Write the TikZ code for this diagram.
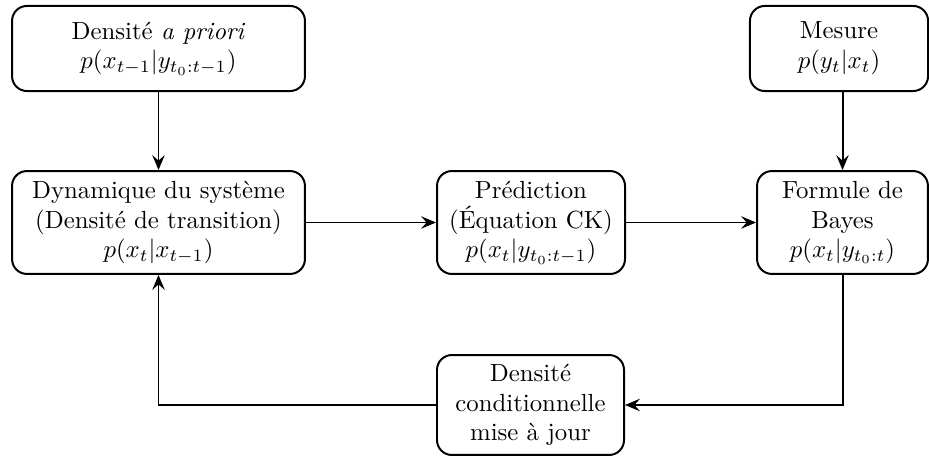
\documentclass[tikz,border=0pt]{standalone}
\usetikzlibrary{arrows.meta}
\begin{document}
\begin{tikzpicture}[x=0.4032pt,y=-0.4032pt,
  box/.style={draw,thick,rounded corners=6pt,align=center,inner sep=2pt,font=\normalsize},
  arr/.style={thick,-{Stealth[length=6pt,width=5pt,inset=2.2pt]}},
  ln/.style={thick}]
\useasboundingbox (0,0) rectangle (929,456);
\node[box,minimum width=118.1pt,minimum height=34.3pt] (prior) at (158.5,48.5) {Densité \emph{a priori}\\$p(x_{t-1}|y_{t_0:t-1})$};
\node[box,minimum width=71.8pt,minimum height=34.3pt] (mes) at (839,48.5) {Mesure\\$p(y_t|x_t)$};
\node[box,minimum width=118.1pt,minimum height=41.5pt] (dyn) at (158.5,222.5) {Dynamique du système\\(Densité de transition)\\$p(x_t|x_{t-1})$};
\node[box,minimum width=75.8pt,minimum height=41.5pt] (pred) at (531,222.5) {Prédiction\\(Équation CK)\\$p(x_t|y_{t_0:t-1})$};
\node[box,minimum width=68.9pt,minimum height=41.5pt] (bayes) at (842.5,222.5) {Formule de\\Bayes\\$p(x_t|y_{t_0:t})$};
\node[box,minimum width=75.4pt,minimum height=40.3pt] (cond) at (530.5,405) {Densité\\conditionnelle\\mise à jour};
\draw[arr] (prior) -- (dyn);
\draw[arr] (bayes.north |- mes.south) -- (bayes.north);
\draw[arr] (dyn) -- (pred);
\draw[arr] (pred) -- (bayes);
\draw[arr] (bayes.south) |- (cond.east);
\draw[arr] (cond.west) -| (dyn.south);
\end{tikzpicture}
\end{document}
